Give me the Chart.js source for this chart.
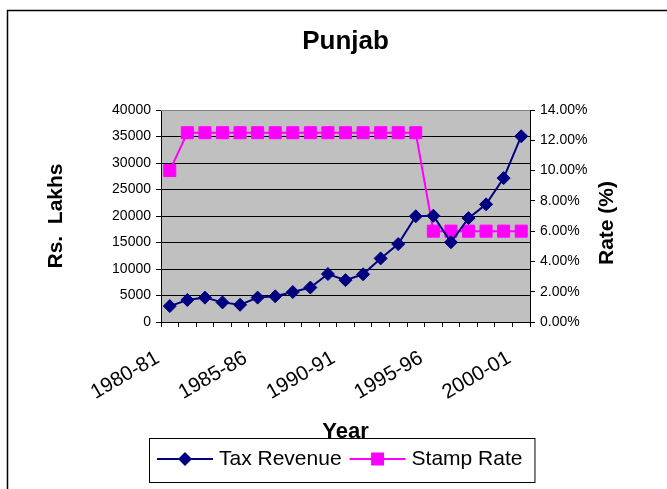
<!DOCTYPE html>
<html>
<head>
<meta charset="utf-8">
<script src="https://cdn.jsdelivr.net/npm/chart.js@4.4.1/dist/chart.umd.min.js"></script>
<style>
html,body{margin:0;padding:0;background:#fff;}
#wrap{width:667px;height:489px;position:relative;}
</style>
</head>
<body>
<div id="wrap"><canvas id="c" width="667" height="489"></canvas></div>
<script>
const categories = ['1980-81','1981-82','1982-83','1983-84','1984-85','1985-86','1986-87','1987-88','1988-89','1989-90','1990-91','1991-92','1992-93','1993-94','1994-95','1995-96','1996-97','1997-98','1998-99','1999-00','2000-01'];
const taxRevenue = [3000, 4150, 4600, 3700, 3250, 4600, 4850, 5650, 6500, 9050, 7900, 9000, 12000, 14700, 19950, 20050, 15050, 19600, 22200, 27150, 35050];
const stampRate = [10, 12.5, 12.5, 12.5, 12.5, 12.5, 12.5, 12.5, 12.5, 12.5, 12.5, 12.5, 12.5, 12.5, 12.5, 6, 6, 6, 6, 6, 6];
const shownTickEvery = 5;
const rightAxisTitle = 'Rate (%)';

const FONT = '"Liberation Sans", Arial, Helvetica, sans-serif';
Chart.defaults.font.family = FONT;
Chart.defaults.color = '#000';

const framePlugin = {
  id: 'frame',
  beforeDraw(chart) {
    const {ctx, chartArea: a} = chart;
    ctx.save();
    ctx.fillStyle = '#fff';
    ctx.fillRect(0, 0, chart.width, chart.height);
    ctx.strokeStyle = '#000';
    ctx.lineWidth = 1.5;
    ctx.strokeRect(7.5, 10.5, 720, 520);
    ctx.fillStyle = '#C0C0C0';
    ctx.fillRect(a.left, a.top, a.right - a.left, a.bottom - a.top);
    ctx.restore();
  },
  beforeDatasetsDraw(chart) {
    const {ctx, chartArea: a} = chart;
    ctx.save();
    ctx.strokeStyle = '#808080';
    ctx.lineWidth = 1;
    ctx.beginPath();
    ctx.moveTo(a.left, a.top + 0.5);
    ctx.lineTo(a.right, a.top + 0.5);
    ctx.stroke();
    ctx.restore();
  },
  afterDraw(chart) {
    const ctx = chart.ctx;
    const ds = chart.data.datasets;
    ctx.save();
    // right axis title, reading bottom-to-top like the left one
    const ys = chart.scales.y1;
    ctx.font = 'bold 21px ' + FONT;
    ctx.fillStyle = '#000';
    ctx.textAlign = 'center';
    ctx.textBaseline = 'middle';
    ctx.translate(ys.right - 16, (chart.chartArea.top + chart.chartArea.bottom) / 2 + 7);
    ctx.rotate(-Math.PI / 2);
    ctx.fillText(rightAxisTitle, 0, 0);
    ctx.setTransform(1, 0, 0, 1, 0, 0);

    // legend
    ctx.font = '21px ' + FONT;
    const lineW = 56, gapText = 6, gapItem = 8, padL = 8, padR = 12;
    let total = padL + padR;
    ds.forEach((d, i) => { total += lineW + gapText + ctx.measureText(d.label).width + (i ? gapItem : 0); });
    const cx = 342, top = 438, bottom = 482;
    const left = Math.round(cx - total / 2);
    ctx.fillStyle = '#fff';
    ctx.fillRect(left, top, total, bottom - top);
    ctx.strokeStyle = '#000';
    ctx.lineWidth = 1;
    ctx.strokeRect(left + 0.5, top + 0.5, total, bottom - top);
    const my = 459;
    let x = left + padL;
    ds.forEach((d, i) => {
      if (i) x += gapItem;
      ctx.strokeStyle = d.borderColor;
      ctx.lineWidth = 2;
      ctx.beginPath();
      ctx.moveTo(x, my); ctx.lineTo(x + lineW, my);
      ctx.stroke();
      const mx = x + lineW / 2;
      ctx.fillStyle = d.borderColor;
      ctx.beginPath();
      if (d.pointStyle === 'rectRot') {
        const r = 7;
        ctx.moveTo(mx - r, my); ctx.lineTo(mx, my - r); ctx.lineTo(mx + r, my); ctx.lineTo(mx, my + r); ctx.closePath();
      } else {
        const s = 6.5;
        ctx.rect(mx - s, my - s, 2 * s, 2 * s);
      }
      ctx.fill();
      x += lineW + gapText;
      ctx.fillStyle = '#000';
      ctx.textBaseline = 'middle';
      ctx.textAlign = 'left';
      ctx.fillText(d.label, x, my);
      x += ctx.measureText(d.label).width;
    });
    ctx.restore();
  }
};

new Chart(document.getElementById('c'), {
  type: 'line',
  data: {
    labels: categories,
    datasets: [
      {
        label: 'Tax Revenue', data: taxRevenue, yAxisID: 'y',
        borderColor: '#000080', backgroundColor: '#000080', borderWidth: 2,
        pointStyle: 'rectRot', pointRadius: 6.5, pointBorderWidth: 1,
        pointBackgroundColor: '#000080', pointBorderColor: '#000080',
        tension: 0, fill: false
      },
      {
        label: 'Stamp Rate', data: stampRate, yAxisID: 'y1',
        borderColor: '#FF00FF', backgroundColor: '#FF00FF', borderWidth: 2,
        pointStyle: 'rect', pointRadius: 8.5, pointBorderWidth: 1,
        pointBackgroundColor: '#FF00FF', pointBorderColor: '#FF00FF',
        tension: 0, fill: false
      }
    ]
  },
  options: {
    responsive: false,
    animation: false,
    devicePixelRatio: 1,
    layout: { padding: { left: 40, right: 44, top: 0, bottom: 40 } },
    plugins: {
      legend: { display: false },
      tooltip: { enabled: false },
      title: {
        display: true, text: 'Punjab', fullSize: false, color: '#000',
        font: { family: FONT, size: 26, weight: 'bold' },
        padding: { top: 26.4, bottom: 52.4 }
      }
    },
    scales: {
      x: {
        type: 'category', offset: true,
        grid: { display: true, drawOnChartArea: false, drawTicks: true, tickLength: 5, color: '#000', offset: true },
        border: { display: true, color: '#000', width: 1 },
        ticks: {
          autoSkip: false, maxRotation: 30, minRotation: 30, color: '#000',
          font: { family: FONT, size: 20.5 }, padding: 19, labelOffset: -12,
          callback: function (v, i) { return i % shownTickEvery === 0 ? categories[i] : ''; }
        },
        title: { display: true, text: 'Year', color: '#000', font: { family: FONT, size: 22, weight: 'bold' }, padding: 4 },
        afterFit: s => { s.height = 127; }
      },
      y: {
        position: 'left', min: 0, max: 40000,
        ticks: { stepSize: 5000, color: '#000', font: { family: FONT, size: 14 }, padding: 5, callback: v => String(v) },
        grid: { color: '#000', tickLength: 5, drawOnChartArea: true, lineWidth: 1 },
        border: { display: true, color: '#000', width: 1 },
        title: { display: true, text: 'Rs.  Lakhs', color: '#000', font: { family: FONT, size: 21, weight: 'bold' }, padding: 4 },
        afterFit: s => { s.width = 121; }
      },
      y1: {
        position: 'right', min: 0, max: 14,
        ticks: { stepSize: 2, color: '#000', font: { family: FONT, size: 14 }, padding: 5, callback: v => Number(v).toFixed(2) + '%' },
        grid: { color: '#000', tickLength: 5, drawOnChartArea: false },
        border: { display: true, color: '#000', width: 1 },
        title: { display: false, text: rightAxisTitle },
        afterFit: s => { s.width = 93; }
      }
    }
  },
  plugins: [framePlugin]
});
</script>
</body>
</html>
